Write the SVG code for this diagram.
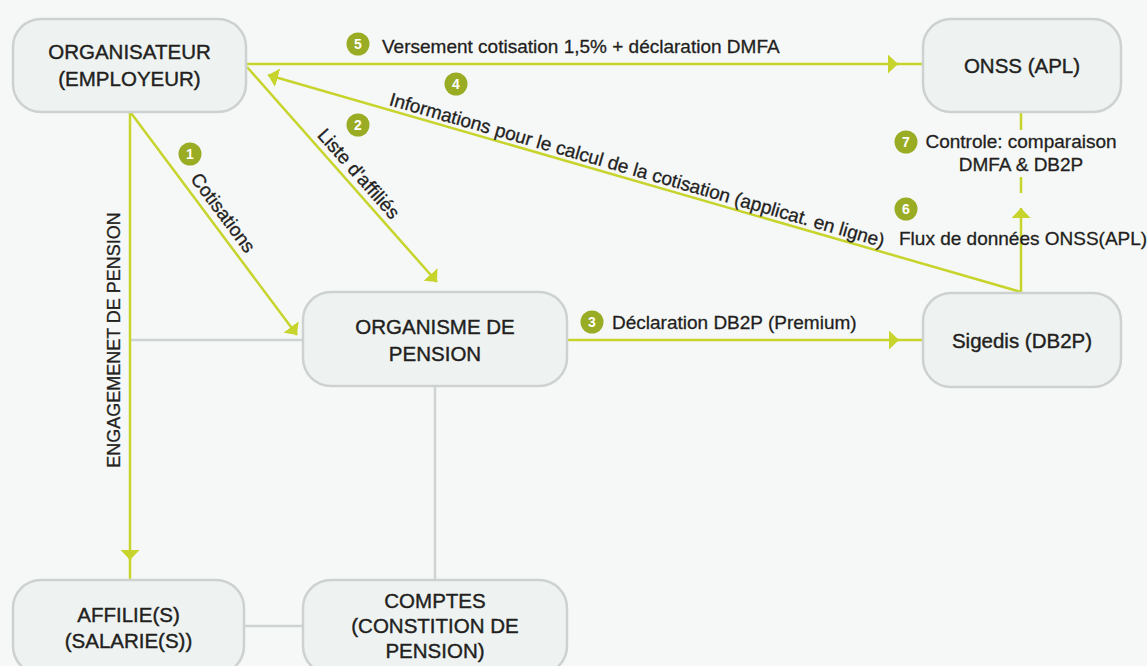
<svg xmlns="http://www.w3.org/2000/svg" width="1147" height="666" viewBox="0 0 1147 666">
<style>
.box{fill:#eef3f2;stroke:#cdd2d0;stroke-width:2.5}
.nt{font-family:"Liberation Sans",Arial,Helvetica,sans-serif;font-size:20.5px;fill:#231f20;stroke:#231f20;stroke-width:0.4;text-anchor:middle}
.lt{font-family:"Liberation Sans",Arial,Helvetica,sans-serif;font-size:19px;fill:#231f20;stroke:#231f20;stroke-width:0.3}
.g{fill:none;stroke:#c6d42b;stroke-width:2.5}
.gr{fill:none;stroke:#cfd3d2;stroke-width:2.5}
.bd{fill:#9aab24}
.bn{font-family:"Liberation Sans",Arial,Helvetica,sans-serif;font-size:14px;font-weight:bold;fill:#ffffff;text-anchor:middle}
</style>
<defs>
<marker id="ah" viewBox="0 0 10 19" refX="10" refY="9.5" markerUnits="userSpaceOnUse" markerWidth="10" markerHeight="19" orient="auto">
<path d="M0,0 L10,9.5 L0,19 z" fill="#c6d42b"/>
</marker>
</defs>
<rect x="0" y="0" width="1147" height="666" fill="#f6f8f8"/>
<g id="connectors">
<path class="gr" d="M130,340 H303"/>
<path class="gr" d="M435,386 V580"/>
<path class="gr" d="M244,626 H303"/>
<path class="g" d="M246,64 H898" marker-end="url(#ah)"/>
<path class="g" d="M896,64 H923"/>
<path class="g" d="M1021,292 L268,75" marker-end="url(#ah)"/>
<path class="g" d="M247,67 L437,282" marker-end="url(#ah)"/>
<path class="g" d="M131,113 L297,335" marker-end="url(#ah)"/>
<path class="g" d="M130,112 V560" marker-end="url(#ah)"/>
<path class="g" d="M130,558 V580"/>
<path class="g" d="M567,340 H899" marker-end="url(#ah)"/>
<path class="g" d="M897,340 H923"/>
<path class="g" d="M1021,292 V208" marker-end="url(#ah)"/>
<path class="g" d="M1021,112 V130 M1021,177 V193"/>
<text class="lt" x="382" y="53">Versement cotisation 1,5% + déclaration DMFA</text>
<text class="lt" transform="translate(268,75) rotate(16.08)" x="381" y="-4.5" text-anchor="middle">Informations pour le calcul de la cotisation (applicat. en ligne)</text>
<text class="lt" transform="translate(247,67) rotate(48.5)" x="154" y="-6.5" text-anchor="middle">Liste d'affiliés</text>
<text class="lt" transform="translate(131,113) rotate(53.2)" x="135" y="-7.5" text-anchor="middle">Cotisations</text>
<text class="lt" x="612" y="329">Déclaration DB2P (Premium)</text>
<text class="lt" x="899" y="245">Flux de données ONSS(APL)</text>
<text class="lt" x="1021" y="148" text-anchor="middle">Controle: comparaison</text>
<text class="lt" x="1021" y="171" text-anchor="middle">DMFA &amp; DB2P</text>
<text class="lt" transform="translate(119.5,340) rotate(-90)" x="0" y="0" text-anchor="middle" style="font-size:18px">ENGAGEMENET DE PENSION</text>
<circle class="bd" cx="190" cy="154" r="11.5"/><text class="bn" x="190" y="159">1</text>
<circle class="bd" cx="358" cy="125" r="11.5"/><text class="bn" x="358" y="130">2</text>
<circle class="bd" cx="592" cy="322" r="11.5"/><text class="bn" x="592" y="327">3</text>
<circle class="bd" cx="456" cy="84" r="11.5"/><text class="bn" x="456" y="89">4</text>
<circle class="bd" cx="358" cy="44" r="11.5"/><text class="bn" x="358" y="49">5</text>
<circle class="bd" cx="906" cy="209" r="11.5"/><text class="bn" x="906" y="214">6</text>
<circle class="bd" cx="906" cy="142" r="11.5"/><text class="bn" x="906" y="147">7</text>
</g>
<g id="organisateur">
<rect class="box" x="13" y="19" width="233" height="93" rx="28"/>
<text class="nt" x="129.5" y="59">ORGANISATEUR</text>
<text class="nt" x="129.5" y="86">(EMPLOYEUR)</text>
</g>
<g id="onss">
<rect class="box" x="923" y="19" width="198" height="93" rx="28"/>
<text class="nt" x="1022" y="73">ONSS (APL)</text>
</g>
<g id="organisme">
<rect class="box" x="303" y="292" width="264" height="94" rx="28"/>
<text class="nt" x="435" y="334">ORGANISME DE</text>
<text class="nt" x="435" y="361">PENSION</text>
</g>
<g id="sigedis">
<rect class="box" x="923" y="293" width="198" height="94" rx="28"/>
<text class="nt" x="1022" y="348">Sigedis (DB2P)</text>
</g>
<g id="affilies">
<rect class="box" x="13" y="580" width="231" height="94" rx="28"/>
<text class="nt" x="128.5" y="622">AFFILIE(S)</text>
<text class="nt" x="128.5" y="648">(SALARIE(S))</text>
</g>
<g id="comptes">
<rect class="box" x="303" y="580" width="264" height="94" rx="28"/>
<text class="nt" x="435" y="608">COMPTES</text>
<text class="nt" x="435" y="633">(CONSTITION DE</text>
<text class="nt" x="435" y="658">PENSION)</text>
</g>
</svg>
